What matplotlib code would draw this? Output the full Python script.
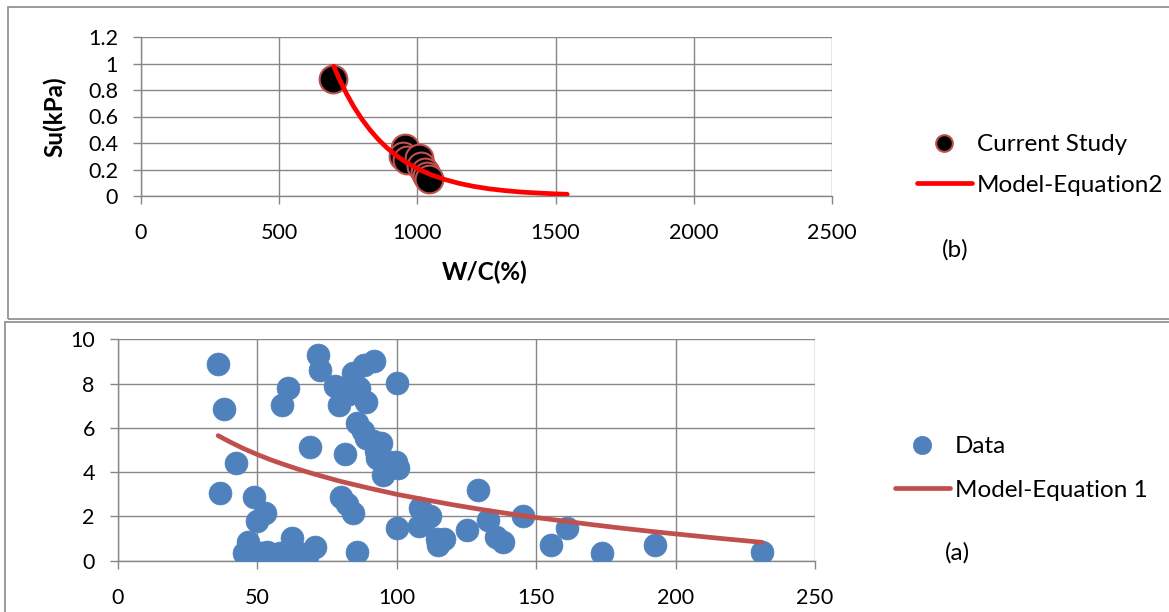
import matplotlib
matplotlib.use("Agg")
import matplotlib.pyplot as plt
from matplotlib.patches import Rectangle

# ---------------- data (b) top panel ----------------
wc_current = [695, 955, 948, 962, 1005, 1012, 1027, 1035, 1042]
su_current = [0.88, 0.36, 0.30, 0.27, 0.29, 0.23, 0.18, 0.15, 0.13]

wc_model2 = [697, 720, 745, 770, 800, 830, 860, 890, 920, 950, 980, 1010,
             1050, 1100, 1150, 1200, 1260, 1320, 1380, 1440, 1500, 1542]
su_model2 = [0.980, 0.871, 0.766, 0.673, 0.577, 0.495, 0.424, 0.363, 0.311,
             0.267, 0.229, 0.196, 0.160, 0.124, 0.096, 0.074, 0.054, 0.040,
             0.029, 0.022, 0.016, 0.013]

top_xticks = [0, 500, 1000, 1500, 2000, 2500]
top_yticks = [0, 0.2, 0.4, 0.6, 0.8, 1, 1.2]
top_yticklabels = ["0", "0.2", "0.4", "0.6", "0.8", "1", "1.2"]

# ---------------- data (a) bottom panel ----------------
x_data = [36.0, 38.1, 42.5, 36.7, 48.7, 52.8, 49.8,
          46.8, 45.4, 47.5, 49.8, 51.5, 53.6, 55.2, 56.8, 58.2, 59.8, 62.4,
          61.5, 63.8, 66.0, 67.8, 70.7,
          61.0, 58.8, 69.0, 71.8, 72.5, 77.8, 79.3, 80.8, 81.4, 80.0, 82.1,
          84.4, 85.7, 84.2, 86.6, 82.9, 88.2, 91.8, 89.0, 85.9, 88.0, 89.2,
          91.4, 94.5, 92.6, 92.8, 95.2, 97.6, 99.8, 100.6, 100.0, 100.0,
          108.4, 112.0, 108.2, 110.0, 114.3, 117.0, 115.0, 125.2, 129.3,
          132.8, 135.6, 138.3, 145.2, 155.2, 161.0, 173.6, 192.6, 230.9]
y_data = [8.87, 6.83, 4.43, 3.04, 2.87, 2.15, 1.78,
          0.85, 0.37, 0.30, 0.22, 0.35, 0.41, 0.30, 0.20, 0.35, 0.18, 1.03,
          0.30, 0.22, 0.30, 0.20, 0.62,
          7.80, 7.02, 5.15, 9.27, 8.61, 7.88, 7.02, 7.80, 4.80, 2.86, 2.55,
          2.15, 0.41, 8.46, 7.80, 7.52, 8.86, 9.01, 7.18, 6.22, 5.85, 5.55,
          5.40, 5.30, 4.95, 4.65, 3.88, 4.47, 4.47, 4.18, 8.03, 1.49,
          2.40, 2.04, 1.55, 1.85, 0.98, 1.00, 0.72, 1.38, 3.19,
          1.84, 1.06, 0.83, 2.01, 0.72, 1.48, 0.36, 0.72, 0.41]

x_model1 = [36, 40, 45, 50, 55, 60, 65, 70, 80, 90, 100, 110, 120, 130,
            140, 150, 160, 170, 180, 190, 200, 215, 231]
y_model1 = [5.65, 5.38, 5.07, 4.80, 4.55, 4.33, 4.12, 3.93, 3.58, 3.28, 3.00,
            2.76, 2.53, 2.32, 2.13, 1.95, 1.79, 1.63, 1.48, 1.34, 1.21, 1.02,
            0.83]

bot_xticks = [0, 50, 100, 150, 200, 250]
bot_yticks = [0, 2, 4, 6, 8, 10]

# ---------------- styling ----------------
plt.rcParams['font.family'] = ['Lato', 'DejaVu Sans']
W, H = 1169, 612
fig = plt.figure(figsize=(W / 100, H / 100), dpi=100)
GRID = '#878787'
TICKFS = 15.5
LEGFS = 17.5
LABFS = 17.5


def px_axes(x0, y0, x1, y1):
    return fig.add_axes([x0 / W, 1 - y1 / H, (x1 - x0) / W, (y1 - y0) / H])


def style(ax):
    ax.grid(True, color=GRID, linewidth=1.0)
    ax.set_axisbelow(True)
    for s in ['top', 'right']:
        ax.spines[s].set_visible(False)
    for s in ['left', 'bottom']:
        ax.spines[s].set_color(GRID)
        ax.spines[s].set_linewidth(1.0)
    ax.tick_params(direction='out', length=5.5, width=1.0, color=GRID,
                   labelsize=TICKFS)
    ax.tick_params(axis='x', pad=14)
    ax.tick_params(axis='y', pad=11)


# frames
fig.patches.append(Rectangle((8 / W, 1 - 319 / H), 1.2, (319 - 7) / H,
                             transform=fig.transFigure, fill=False,
                             edgecolor='#8a8a8a', linewidth=1.2))
fig.patches.append(Rectangle((5 / W, -0.1), 1.2, 0.1 + (612 - 322) / H,
                             transform=fig.transFigure, fill=False,
                             edgecolor='#8a8a8a', linewidth=1.2))

# ---------------- top panel ----------------
ax1 = px_axes(141, 37, 832, 196)
ax1.set_xlim(0, 2500)
ax1.set_ylim(0, 1.2)
ax1.set_xticks(top_xticks)
ax1.set_yticks(top_yticks)
ax1.set_yticklabels(top_yticklabels)
style(ax1)
ax1.plot(wc_current, su_current, linestyle='none', marker='o', markersize=20,
         markerfacecolor='black', markeredgecolor='#C0504D',
         markeredgewidth=1.5, label='Current Study', zorder=3)
ax1.plot(wc_model2, su_model2, color='#FF0000', linewidth=3.4,
         solid_capstyle='round', label='Model-Equation2', zorder=4)
ax1.set_xlabel('W/C(%)', fontsize=LABFS, fontweight='bold')
ax1.xaxis.set_label_coords((485 - 141) / 691, -(261 - 196) / 159)
ax1.set_ylabel('Su(kPa)', fontsize=LABFS, fontweight='bold')
ax1.yaxis.set_label_coords(-(141 - 67) / 691, (196 - 117) / 159)
leg1 = ax1.legend(loc='center left', bbox_to_anchor=(917 / W, 1 - 165 / H),
                  bbox_transform=fig.transFigure, frameon=False,
                  fontsize=LEGFS, handlelength=2.26, handletextpad=0.2,
                  borderpad=0, borderaxespad=0, labelspacing=0.8,
                  markerscale=0.6)
fig.text(955 / W, 1 - 250 / H, '(b)', fontsize=LEGFS, ha='center', va='center')

# ---------------- bottom panel ----------------
ax2 = px_axes(117.7, 339.3, 815, 560.7)
ax2.set_xlim(0, 250)
ax2.set_ylim(0, 10)
ax2.set_xticks(bot_xticks)
ax2.set_yticks(bot_yticks)
style(ax2)
ax2.plot(x_data, y_data, linestyle='none', marker='o', markersize=16.5,
         markerfacecolor='#4F81BD', markeredgecolor='#4F81BD',
         markeredgewidth=0.5, label='Data', zorder=3)
ax2.plot(x_model1, y_model1, color='#C0504D', linewidth=3.4,
         solid_capstyle='round', label='Model-Equation 1', zorder=4)
leg2 = ax2.legend(loc='center left', bbox_to_anchor=(895 / W, 1 - 468.5 / H),
                  bbox_transform=fig.transFigure, frameon=False,
                  fontsize=LEGFS, handlelength=2.26, handletextpad=0.2,
                  borderpad=0, borderaxespad=0, labelspacing=0.93,
                  markerscale=0.8)
fig.text(957 / W, 1 - 553 / H, '(a)', fontsize=LEGFS, ha='center', va='center')

fig.savefig('out.png', dpi=100)
